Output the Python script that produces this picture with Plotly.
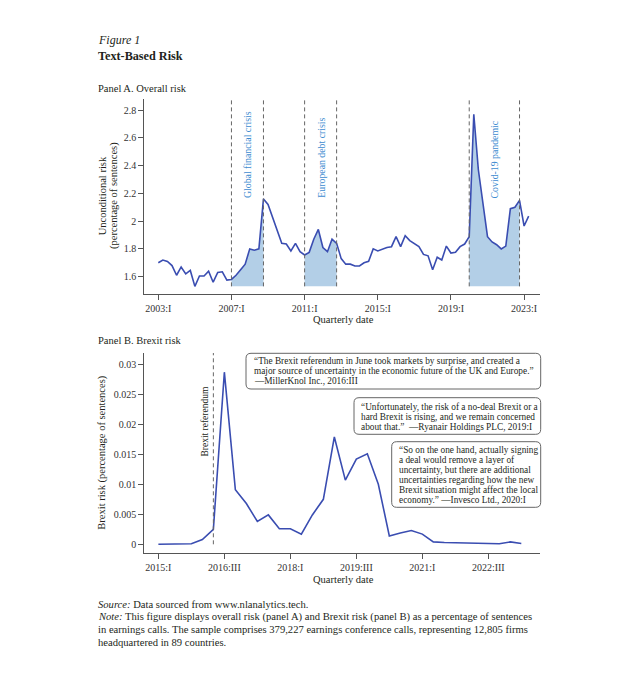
import plotly.graph_objects as go

# page body keeps an 8px margin, so the figure is 16px smaller and coordinates shift by 8
W, H = 622, 687
OFF = 8
FW, FH = W - 2 * OFF, H - 2 * OFF
FONT = "Liberation Serif"
INK = "#231f20"
LINE_BLUE = "#3a4db1"
FILL_BLUE = "#b3cfe7"
LABEL_BLUE = "#3d8bd0"
GREY = "#666666"

ROMAN = ["I", "II", "III", "IV"]

# Panel A: unconditional risk, quarterly from 2003:I
risk = [1.70, 1.72, 1.71, 1.68,
        1.61, 1.67, 1.62, 1.645,
        1.53, 1.605, 1.605, 1.64,
        1.56, 1.63, 1.635, 1.575,
        1.58, 1.61, 1.65, 1.69,
        1.80, 1.79, 1.80, 2.16,
        2.12, 2.03, 1.94, 1.84,
        1.835, 1.785, 1.84, 1.78,
        1.756, 1.775, 1.87, 1.94,
        1.81, 1.78, 1.87, 1.84,
        1.73, 1.69, 1.69, 1.677,
        1.677, 1.70, 1.71, 1.80,
        1.785, 1.80, 1.81, 1.816,
        1.888, 1.816, 1.895, 1.86,
        1.84, 1.816, 1.76, 1.75,
        1.65, 1.74, 1.72, 1.82,
        1.77, 1.775, 1.816, 1.835,
        1.888, 2.77, 2.37, 2.12,
        1.888, 1.85, 1.83, 1.80,
        1.82, 2.09, 2.10, 2.15,
        1.965, 2.036]
risk_start = 2003

crises = ["Global financial crisis", "European debt crisis", "Covid-19 pandemic"]
crisis_start = ["2007:I", "2011:I", "2020:I"]
crisis_end = ["2008:IV", "2012:IV", "2022:IV"]

risk_ticks = ["2003:I", "2007:I", "2011:I", "2015:I", "2019:I", "2023:I"]
risk_yticks = [1.6, 1.8, 2.0, 2.2, 2.4, 2.6, 2.8]

# Panel B: Brexit risk, quarterly from 2015:I
brexit = [0.0, 0.00003, 0.00005, 0.0001,
          0.0008, 0.0025, 0.0287, 0.0091,
          0.0068, 0.0038, 0.0049, 0.0026,
          0.0026, 0.0017, 0.0049, 0.0075,
          0.0179, 0.0107, 0.0142, 0.0151,
          0.0100, 0.0014, 0.0019, 0.0023,
          0.0017, 0.0004, 0.0003, 0.00025,
          0.0002, 0.0002, 0.00015, 0.0001,
          0.0004, 0.00013]
brexit_start = 2015
referendum = "2016:II"
brexit_ticks = ["2015:I", "2016:III", "2018:I", "2019:III", "2021:I", "2022:III"]
brexit_yticks = [0, 0.005, 0.01, 0.015, 0.02, 0.025, 0.03]

quotes = [
    ["“The Brexit referendum in June took markets by surprise, and created a",
     "major source of uncertainty in the economic future of the UK and Europe.”",
     "—MillerKnol Inc., 2016:III"],
    ["“Unfortunately, the risk of a no-deal Brexit or a",
     "hard Brexit is rising, and we remain concerned",
     "about that.”  —Ryanair Holdings PLC, 2019:I"],
    ["“So on the one hand, actually signing",
     "a deal would remove a layer of",
     "uncertainty, but there are additional",
     "uncertainties regarding how the new",
     "Brexit situation might affect the local",
     "economy.” —Invesco Ltd., 2020:I"],
]


def labels(start, n):
    return ["%d:%s" % (start + i // 4, ROMAN[i % 4]) for i in range(n)]


def qx(label):
    y, q = label.split(":")
    return int(y) + ROMAN.index(q) / 4


def px(x):
    return (x - OFF) / FW


def py(y):
    return 1 - (y - OFF) / FH


risk_x = [qx(l) for l in labels(risk_start, len(risk))]
brexit_x = [qx(l) for l in labels(brexit_start, len(brexit))]
base = min(risk)

A_TOP = 2.88
B_TOP = 0.0319

fig = go.Figure()

# shaded crisis periods
for s, e in zip(crisis_start, crisis_end):
    seg = [(x, v) for x, v in zip(risk_x, risk) if qx(s) <= x <= qx(e)]
    fig.add_trace(go.Scatter(x=[p[0] for p in seg], y=[base] * len(seg), mode="lines",
                             line=dict(width=0), showlegend=False, hoverinfo="skip"))
    fig.add_trace(go.Scatter(x=[p[0] for p in seg], y=[p[1] for p in seg], mode="lines",
                             line=dict(width=0), fill="tonexty", fillcolor=FILL_BLUE,
                             showlegend=False, hoverinfo="skip"))
    for d in (s, e):
        fig.add_shape(type="line", x0=qx(d), x1=qx(d), y0=base, y1=A_TOP, xref="x", yref="y",
                      line=dict(color=GREY, width=1, dash="4px,3px"))

fig.add_trace(go.Scatter(x=risk_x, y=risk, mode="lines", line=dict(color=LINE_BLUE, width=1.6),
                         showlegend=False))
fig.add_trace(go.Scatter(x=brexit_x, y=brexit, mode="lines", line=dict(color=LINE_BLUE, width=1.6),
                         showlegend=False, xaxis="x2", yaxis="y2"))

fig.add_shape(type="line", x0=qx(referendum), x1=qx(referendum), y0=0, y1=B_TOP,
              xref="x2", yref="y2", line=dict(color=GREY, width=1, dash="4px,3px"))

ann = []


def text(x, y, s, size=10.5, xanchor="left", yanchor="middle", angle=0, color=INK, **kw):
    ann.append(dict(x=x, y=y, text=s, showarrow=False, xanchor=xanchor, yanchor=yanchor,
                    textangle=angle, font=dict(family=FONT, size=size, color=color), **kw))


for name, s, e in zip(crises, crisis_start, crisis_end):
    text((qx(s) + qx(e)) / 2, 2.152, name, size=9.8, xanchor="center", yanchor="bottom",
         angle=-90, color=LABEL_BLUE, xref="x", yref="y")

text(qx(referendum) - 0.02, 0.0143, "Brexit referendum", size=9.5, xanchor="right",
     yanchor="bottom", angle=-90, xref="x2", yref="y2")

# quote boxes (pixel geometry)
boxes = [(246, 353.3, 540.7, 389, 251.7, 361),
         (354, 397.7, 540.7, 434.3, 359.3, 406.7),
         (391.7, 441.7, 540.7, 507.3, 396.7, 450)]
r = 5
for (x0, y0, x1, y1, tx, ty), lines in zip(boxes, quotes):
    X0, X1, Yt, Yb, rx, ry = px(x0), px(x1), py(y0), py(y1), r / FW, r / FH
    path = (f"M {X0+rx},{Yt} L {X1-rx},{Yt} Q {X1},{Yt} {X1},{Yt-ry} L {X1},{Yb+ry} "
            f"Q {X1},{Yb} {X1-rx},{Yb} L {X0+rx},{Yb} Q {X0},{Yb} {X0},{Yb+ry} "
            f"L {X0},{Yt-ry} Q {X0},{Yt} {X0+rx},{Yt} Z")
    fig.add_shape(type="path", path=path, xref="paper", yref="paper",
                  line=dict(color=GREY, width=1), fillcolor="white")
    for i, l in enumerate(lines):
        text(px(tx), py(ty + i * 10), l, size=9.3, xref="paper", yref="paper")

# titles, panel labels, axis titles, notes
text(px(96), py(40), "<i>Figure 1</i>", size=12, xref="paper", yref="paper")
text(px(96), py(56), "<b>Text-Based Risk</b>", size=12.2, xref="paper", yref="paper")
text(px(96), py(88), "Panel A. Overall risk", size=10.5, xref="paper", yref="paper")
text(px(96), py(340), "Panel B. Brexit risk", size=10.5, xref="paper", yref="paper")
text(px(103.3), py(196), "Unconditional risk", xanchor="center", angle=-90, xref="paper", yref="paper")
text(px(114), py(196), "(percentage of sentences)", xanchor="center", angle=-90, xref="paper", yref="paper")
text(px(101.7), py(453), "Brexit risk (percentage of sentences)", xanchor="center", angle=-90,
     xref="paper", yref="paper")
text(px(343), py(320), "Quarterly date", xanchor="center", xref="paper", yref="paper")
text(px(343), py(579), "Quarterly date", xanchor="center", xref="paper", yref="paper")

notes = ["<i>Source:</i> Data sourced from www.nlanalytics.tech.",
         "<i>Note:</i> This figure displays overall risk (panel A) and Brexit risk (panel B) as a percentage of sentences",
         "in earnings calls. The sample comprises 379,227 earnings conference calls, representing 12,805 firms",
         "headquartered in 89 countries."]
for i, n in enumerate(notes):
    text(px(96), py(604 + i * 12.7), n, size=10.6, xref="paper", yref="paper")

axis_style = dict(showline=True, linecolor="#555555", linewidth=1, ticks="outside", ticklen=5,
                  tickcolor="#555555", showgrid=False, zeroline=False,
                  tickfont=dict(family=FONT, size=10, color="#333333"))

fig.update_layout(
    width=FW, height=FH, margin=dict(l=0, r=0, t=0, b=0),
    paper_bgcolor="white", plot_bgcolor="white", showlegend=False,
    annotations=ann,
    xaxis=dict(domain=[px(144.3), px(540)], anchor="y", range=[2002.235, 2023.87],
               tickvals=[qx(t) for t in risk_ticks], ticktext=risk_ticks, **axis_style),
    yaxis=dict(domain=[py(294), py(99)], anchor="x", range=[1.475, A_TOP],
               tickvals=risk_yticks, ticktext=["%g" % v for v in risk_yticks], **axis_style),
    xaxis2=dict(domain=[px(144.3), px(540)], anchor="y2", range=[2014.68, 2023.675],
                tickvals=[qx(t) for t in brexit_ticks], ticktext=brexit_ticks, **axis_style),
    yaxis2=dict(domain=[py(552.7), py(353)], anchor="x2", range=[-0.0014, B_TOP],
                tickvals=brexit_yticks, ticktext=["%g" % v for v in brexit_yticks], **axis_style),
)

fig.write_html("out.html")
